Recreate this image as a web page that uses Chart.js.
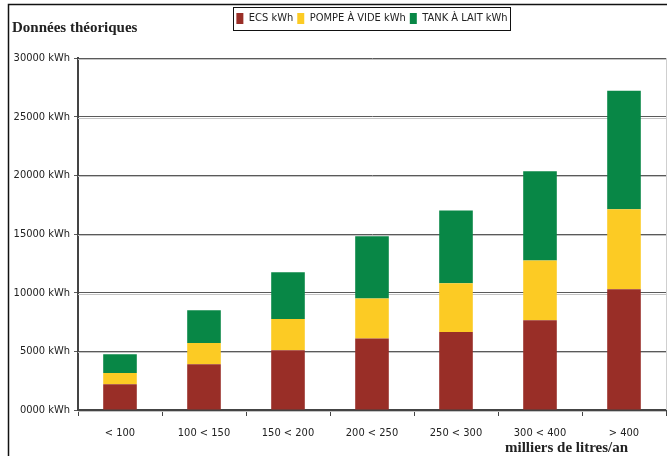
<!DOCTYPE html>
<html lang="fr">
<head>
  <meta charset="UTF-8" />
  <title>Données théoriques</title>
  <script src="https://cdn.jsdelivr.net/npm/chart.js"></script>
  <style>
    html, body { margin: 0; padding: 0; background: #fff; }
    #wrap { position: relative; width: 667px; height: 456px; }
  </style>
</head>
<body>
  <div id="wrap"><canvas id="chart" width="667" height="456"></canvas></div>

  <script>
    // categories (milliers de litres/an)
    const categories = ['< 100', '100 < 150', '150 < 200', '200 < 250', '250 < 300', '300 < 400', '> 400'];
    // valeurs en kWh
    const ecs = [2200, 3900, 5100, 6100, 6650, 7650, 10300];
    const pompe = [950, 1800, 2650, 3400, 4150, 5100, 6800];
    const tank = [1600, 2800, 4000, 5300, 6200, 7600, 10100];
    const yTicks = [0, 5000, 10000, 15000, 20000, 25000, 30000];

    const sans = "'DejaVu Sans Condensed', 'Liberation Sans', sans-serif";
    const serif = "'Liberation Serif', 'DejaVu Serif', serif";
    const labelFont = { family: sans, size: 11 };

    // espace entre la légende et le graphique
    const legendGap = {
      id: 'legendGap',
      beforeLayout(chart) {
        const lg = chart.legend;
        if (lg && !lg._gap) {
          const fit = lg.fit;
          lg.fit = function () { fit.call(this); this.height += 24; };
          lg._gap = true;
        }
      }
    };

    // cadre, titres, ombre des lignes de grille
    const decor = {
      id: 'decor',
      beforeDatasetsDraw(chart) {
        const ctx = chart.ctx;
        const y = chart.scales.y;
        const a = chart.chartArea;
        ctx.save();
        ctx.strokeStyle = '#c4c4c4';
        ctx.lineWidth = 1;
        yTicks.forEach(v => {
          const py = Math.round(y.getPixelForValue(v)) + 1.5;
          ctx.beginPath();
          ctx.moveTo(a.left, py);
          ctx.lineTo(a.right, py);
          ctx.stroke();
        });
        ctx.restore();
      },
      afterDraw(chart) {
        const ctx = chart.ctx;
        const a = chart.chartArea;
        const boxes = chart.legend.legendHitBoxes;
        ctx.save();
        // cadre extérieur
        ctx.strokeStyle = '#111';
        ctx.lineWidth = 1.5;
        ctx.beginPath();
        ctx.moveTo(8.5, 456);
        ctx.lineTo(8.5, 4.5);
        ctx.lineTo(667, 4.5);
        ctx.stroke();
        // bord droit du graphique
        ctx.strokeStyle = '#cfcfcf';
        ctx.lineWidth = 1;
        ctx.beginPath();
        ctx.moveTo(a.right + 0.5, a.top);
        ctx.lineTo(a.right + 0.5, a.bottom);
        ctx.stroke();
        // cadre de la légende
        if (boxes.length) {
          const l = Math.min(...boxes.map(b => b.left)) - 3;
          const r = Math.max(...boxes.map(b => b.left + b.width)) + 3;
          const t = Math.min(...boxes.map(b => b.top)) - 6;
          const btm = Math.max(...boxes.map(b => b.top + b.height)) + 6;
          ctx.strokeStyle = '#111';
          ctx.lineWidth = 1;
          ctx.strokeRect(Math.round(l) + 0.5, Math.round(t) + 0.5, Math.round(r - l), Math.round(btm - t));
        }
        // titres
        ctx.fillStyle = '#222';
        ctx.font = 'bold 15px ' + serif;
        ctx.textBaseline = 'alphabetic';
        ctx.textAlign = 'left';
        ctx.fillText('Données théoriques', 12, 32);
        ctx.fillText('milliers de litres/an', 505, 452);
        ctx.restore();
      }
    };

    const ctx = document.getElementById('chart').getContext('2d');
    new Chart(ctx, {
      type: 'bar',
      data: {
        labels: categories,
        datasets: [
          { label: 'ECS kWh', data: ecs, backgroundColor: '#992E27' },
          { label: 'POMPE À VIDE kWh', data: pompe, backgroundColor: '#FCCB24' },
          { label: 'TANK À LAIT kWh', data: tank, backgroundColor: '#088746' }
        ]
      },
      options: {
        responsive: false,
        animation: false,
        layout: { padding: { left: 0, right: 1, top: 9, bottom: 0 } },
        datasets: { bar: { barPercentage: 0.4, categoryPercentage: 1 } },
        plugins: {
          tooltip: { enabled: false },
          title: { display: false },
          legend: {
            display: true,
            position: 'top',
            fullSize: false,
            labels: {
              boxWidth: 7,
              boxHeight: 11,
              padding: 4,
              color: '#222',
              font: labelFont
            }
          }
        },
        scales: {
          x: {
            stacked: true,
            grid: { drawOnChartArea: false, drawTicks: true, tickLength: 6, color: '#444', offset: true },
            border: { color: '#444', width: 2 },
            ticks: { color: '#222', padding: 11, font: labelFont },
            afterFit(scale) { scale.height = 46; }
          },
          y: {
            stacked: true,
            min: 0,
            max: 30000,
            afterBuildTicks(scale) { scale.ticks = yTicks.map(v => ({ value: v })); },
            grid: { color: '#5a5a5a', lineWidth: 1, tickLength: 4 },
            border: { color: '#444', width: 2 },
            ticks: {
              color: '#222',
              padding: 4,
              font: labelFont,
              callback: v => String(v).padStart(4, '0') + ' kWh'
            },
            afterFit(scale) { scale.width = 78; }
          }
        }
      },
      plugins: [legendGap, decor]
    });
  </script>
</body>
</html>
